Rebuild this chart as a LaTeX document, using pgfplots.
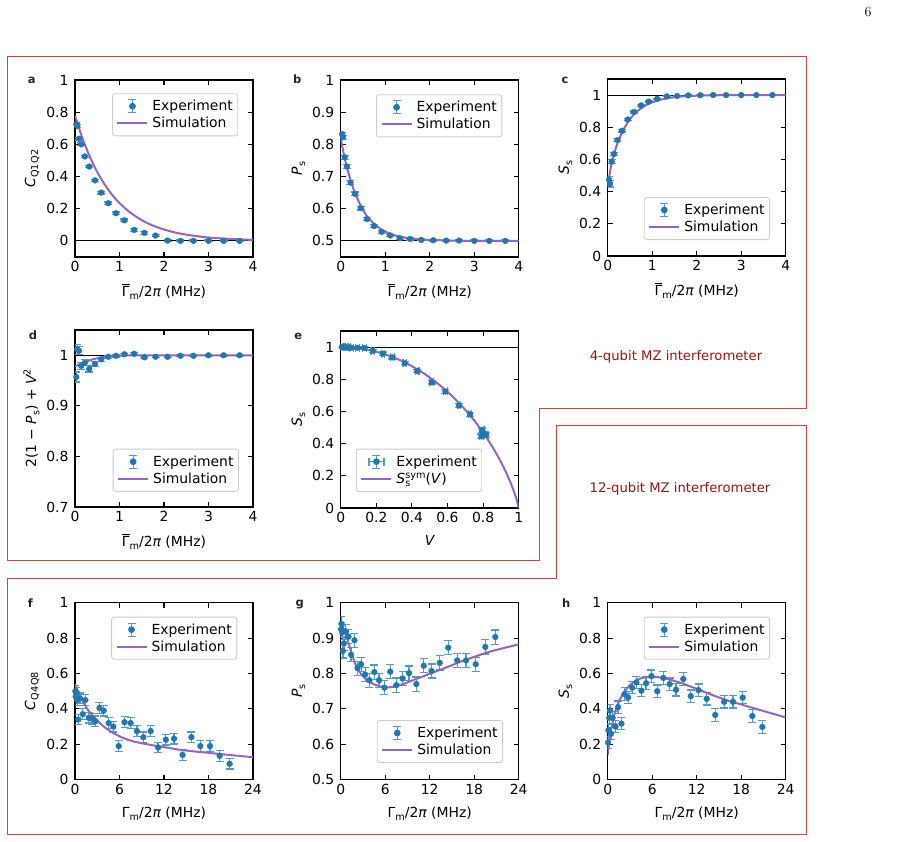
\documentclass[border=0pt]{standalone}
\usepackage{fontspec}
\usepackage{pgfplots}
\usepackage{pgfplotstable}
\pgfplotsset{compat=1.18}
\newfontfamily\dv{DejaVu Sans}
\newcommand\F{\dv\fontsize{13.9}{16}\selectfont}
\newcommand\Fs{\dv\fontsize{9.7}{11}\selectfont}
\newcommand\sub[1]{\raisebox{-3.2pt}{\Fs #1}}
\newcommand\sups[1]{\raisebox{5.5pt}{\Fs #1}}
\newcommand\GmBar{$\overline{\hbox{\F Γ}}$\sub{m}/2{\itshape π} (MHz)}
\newcommand\Gm{Γ\sub{m}/2{\itshape π} (MHz)}
\definecolor{tblue}{HTML}{1F77B4}
\definecolor{tpurple}{HTML}{9467BD}
\colorlet{errc}{tblue!75!white}
\definecolor{boxred}{RGB}{222,60,60}
\definecolor{txtred}{RGB}{150,20,20}

\pgfplotstableread{
x a ea b eb c ec d ed
0.03 0.725 0.008 0.832 0.006 0.474 0.020 0.957 0.010
0.05 0.715 0.008 0.822 0.006 0.449 0.020 1.012 0.010
0.09 0.635 0.008 0.760 0.006 0.586 0.012 1.009 0.008
0.14 0.600 0.008 0.731 0.006 0.634 0.010 0.979 0.007
0.22 0.525 0.008 0.681 0.006 0.720 0.010 0.985 0.006
0.32 0.462 0.008 0.646 0.006 0.778 0.008 0.973 0.006
0.45 0.376 0.008 0.602 0.006 0.848 0.008 0.983 0.005
0.59 0.300 0.008 0.568 0.005 0.895 0.006 0.992 0.004
0.75 0.234 0.008 0.546 0.005 0.936 0.005 0.997 0.003
0.92 0.172 0.008 0.528 0.005 0.959 0.004 0.999 0.003
1.11 0.128 0.008 0.517 0.004 0.977 0.004 1.002 0.002
1.33 0.068 0.008 0.508 0.004 0.992 0.003 1.003 0.002
1.56 0.050 0.008 0.506 0.003 0.994 0.003 0.996 0.002
1.81 0.033 0.008 0.503 0.003 0.998 0.002 0.997 0.002
2.08 0.002 0.006 0.502 0.003 0.999 0.002 0.997 0.002
2.37 0.000 0.005 0.501 0.003 1.000 0.002 0.999 0.002
2.66 0.000 0.005 0.501 0.003 1.000 0.002 0.999 0.002
3.00 0.000 0.005 0.500 0.003 1.000 0.002 1.000 0.002
3.34 0.000 0.005 0.500 0.003 1.000 0.002 1.000 0.002
3.70 0.000 0.005 0.500 0.003 1.000 0.002 1.000 0.002
}\tabA

\pgfplotstableread{
x a b c d
0.0 0.780 0.820 0.430 0.978
0.05 0.735 0.783 0.520 0.980
0.1 0.692 0.751 0.590 0.982
0.15 0.652 0.724 0.640 0.984
0.2 0.614 0.699 0.685 0.986
0.3 0.545 0.656 0.755 0.989
0.4 0.483 0.624 0.808 0.992
0.5 0.428 0.596 0.850 0.994
0.6 0.380 0.575 0.882 0.996
0.7 0.337 0.560 0.907 0.997
0.8 0.299 0.547 0.927 0.998
0.9 0.265 0.537 0.943 0.999
1.0 0.235 0.529 0.955 0.999
1.2 0.185 0.518 0.972 1.000
1.4 0.146 0.511 0.983 1.000
1.6 0.114 0.507 0.990 1.000
1.8 0.090 0.504 0.994 1.000
2.0 0.071 0.503 0.996 1.000
2.25 0.052 0.502 0.998 1.000
2.5 0.039 0.501 0.999 1.000
2.75 0.029 0.500 1.000 1.000
3.0 0.021 0.500 1.000 1.000
3.5 0.012 0.500 1.000 1.000
4.0 0.006 0.500 1.000 1.000
}\simA

\pgfplotstableread{
v s ev es
0.006 1.000 0.010 0.010
0.019 1.000 0.010 0.010
0.032 0.998 0.010 0.010
0.047 0.998 0.010 0.010
0.061 0.996 0.010 0.010
0.095 0.996 0.010 0.010
0.133 0.994 0.010 0.010
0.180 0.977 0.010 0.010
0.237 0.959 0.010 0.010
0.290 0.936 0.010 0.010
0.360 0.900 0.010 0.010
0.430 0.851 0.010 0.010
0.512 0.781 0.010 0.010
0.588 0.724 0.010 0.010
0.664 0.637 0.010 0.010
0.727 0.582 0.010 0.012
0.793 0.482 0.012 0.015
0.803 0.460 0.012 0.015
0.790 0.445 0.012 0.015
0.816 0.455 0.012 0.015
}\tabE

\pgfplotstableread{
v s
0.0 1.000
0.05 0.998
0.1 0.993
0.15 0.984
0.2 0.971
0.25 0.954
0.3 0.934
0.35 0.910
0.4 0.881
0.45 0.849
0.5 0.811
0.55 0.769
0.6 0.722
0.65 0.669
0.7 0.610
0.75 0.544
0.8 0.469
0.85 0.384
0.875 0.337
0.9 0.286
0.925 0.231
0.95 0.169
0.97 0.112
0.98 0.081
0.99 0.045
1.0 0.000
}\simE

\pgfplotstableread{
x f g h
0.05 0.500 0.925 0.210
0.10 0.470 0.940 0.280
0.20 0.490 0.916 0.350
0.30 0.450 0.864 0.390
0.45 0.340 0.885 0.260
0.67 0.460 0.919 0.350
1.05 0.370 0.904 0.300
1.40 0.450 0.853 0.410
1.85 0.350 0.894 0.317
2.27 0.345 0.815 0.484
2.75 0.330 0.826 0.465
3.30 0.405 0.797 0.520
3.87 0.390 0.781 0.550
4.54 0.320 0.804 0.503
5.17 0.300 0.781 0.545
5.90 0.190 0.760 0.585
6.68 0.325 0.805 0.500
7.50 0.320 0.767 0.575
8.35 0.275 0.786 0.540
9.22 0.240 0.801 0.508
10.20 0.275 0.770 0.569
11.20 0.182 0.822 0.472
12.25 0.226 0.807 0.506
13.35 0.232 0.830 0.457
14.50 0.140 0.873 0.366
15.70 0.240 0.837 0.440
16.90 0.190 0.837 0.440
18.20 0.190 0.826 0.464
19.50 0.135 0.875 0.360
20.85 0.090 0.903 0.298
}\tabF

\pgfplotstableread{
x f g h
0.0 0.540 0.950 0.140
0.25 0.515 0.935 0.220
0.5 0.490 0.920 0.290
1.0 0.447 0.890 0.385
1.5 0.410 0.855 0.440
2.0 0.380 0.826 0.480
2.5 0.355 0.806 0.510
3.0 0.334 0.792 0.535
4.0 0.296 0.775 0.565
5.0 0.268 0.765 0.578
6.0 0.245 0.761 0.581
7.0 0.228 0.762 0.578
8.0 0.215 0.767 0.570
10.0 0.198 0.783 0.545
12.0 0.184 0.799 0.513
14.0 0.170 0.815 0.480
16.0 0.160 0.832 0.450
18.0 0.152 0.847 0.425
20.0 0.143 0.861 0.400
22.0 0.135 0.872 0.376
24.0 0.127 0.882 0.352
}\simF

\pgfplotsset{
 panel/.style={scale only axis, width=178pt, height=177pt, anchor=north west,
  axis line style={line width=1.2pt},
  every tick/.style={black, line width=1.1pt}, major tick length=5pt, tick align=inside,
  ticklabel style={font=\F}, label style={font=\F},
  yticklabel style={xshift=-3pt},
  xticklabel style={yshift=-1pt},
  xlabel style={yshift=-5pt},
  /pgf/number format/assume math mode=true,
  legend cell align=left,
  legend style={draw=black!20, line width=0.9pt, rounded corners=2.5pt, fill=white,
    font=\F, inner xsep=4pt, inner ysep=4pt, nodes={inner xsep=1pt, inner ysep=2.5pt},
    /tikz/every odd column/.append style={column sep=3pt}}},
 exp/.style={only marks, mark=*, mark size=2.9pt, color=tblue,
  error bars/y dir=both, error bars/y explicit,
  error bars/error bar style={errc, line width=1.2pt},
  error bars/error mark options={rotate=90, errc, mark size=4pt, line width=1.2pt}},
 explegend/.style={legend image code/.code={
  \path[draw=none, fill=none] (0pt,0pt) -- (30pt,0pt);
  \draw[errc, line width=1.2pt] (15pt,-6.5pt) -- (15pt,6.5pt) (11pt,-6.5pt) -- (19pt,-6.5pt) (11pt,6.5pt) -- (19pt,6.5pt);
  \fill[tblue] (15pt,0pt) circle (2.9pt);}},
 explegendxy/.style={legend image code/.code={
  \path[draw=none, fill=none] (0pt,0pt) -- (30pt,0pt);
  \draw[errc, line width=1.2pt] (15pt,-6.5pt) -- (15pt,6.5pt) (11pt,-6.5pt) -- (19pt,-6.5pt) (11pt,6.5pt) -- (19pt,6.5pt)
    (7.5pt,0pt) -- (22.5pt,0pt) (7.5pt,-4pt) -- (7.5pt,4pt) (22.5pt,-4pt) -- (22.5pt,4pt);
  \fill[tblue] (15pt,0pt) circle (2.9pt);}},
 sim/.style={tpurple, line width=2pt, no markers, smooth,
  legend image code/.code={\draw[tpurple, line width=2pt] (0pt,0pt) -- (30pt,0pt);}},
 refline/.style={black, line width=0.9pt, forget plot},
}
\newcommand\plab[3]{\node[font=\dv\fontsize{11.5}{12}\selectfont\bfseries, text=black!85, anchor=base] at (#1,#2) {#3};}

\begin{document}
\begin{tikzpicture}[x=1pt,y=1pt]
\useasboundingbox (0,0) rectangle (907,842);

% red boxes
\draw[boxred, line width=1pt] (7,785) -- (806,785) -- (806,433) -- (539.7,433) -- (539.7,281) -- (7,281) -- cycle;
\draw[boxred, line width=1pt] (556.7,416) -- (806,416) -- (806,7) -- (7,7) -- (7,263.7) -- (556.7,263.7) -- cycle;
\node[font=\dv\fontsize{13.2}{15}\selectfont, text=txtred] at (676,485) {4-qubit MZ interferometer};
\node[font=\dv\fontsize{13.2}{15}\selectfont, text=txtred] at (680,353) {12-qubit MZ interferometer};
\node[font=\fontsize{14}{16}\selectfont, anchor=base] at (868,825) {6};

% panel letters
\plab{31.7}{758}{a}
\plab{297.3}{758}{b}
\plab{565}{758.7}{c}
\plab{33}{502.7}{d}
\plab{298.3}{502.7}{e}
\plab{30.3}{234.7}{f}
\plab{299.7}{235.3}{g}
\plab{566.3}{234.7}{h}

% a
\begin{axis}[panel, at={(75pt,762pt)}, xmin=0, xmax=4, ymin=-0.1, ymax=1,
  xtick={0,1,2,3,4}, ytick={0,0.2,0.4,0.6,0.8,1},
  xlabel={\GmBar}, ylabel={{\itshape C}\sub{Q1\kern0.8pt Q2}},
  legend style={at={(0.917,0.925)}, anchor=north east}]
\addplot[refline] coordinates {(0,0) (4,0)};
\addplot[exp, explegend] table[x=x, y=a, y error=ea] {\tabA};
\addlegendentry{Experiment}
\addplot[sim] table[x=x, y=a] {\simA};
\addlegendentry{Simulation}
\end{axis}

% b
\begin{axis}[panel, at={(340.7pt,762pt)}, xmin=0, xmax=4, ymin=0.45, ymax=1,
  xtick={0,1,2,3,4}, ytick={0.5,0.6,0.7,0.8,0.9,1},
  xlabel={\GmBar}, ylabel={{\itshape P}\sub{s}},
  legend style={at={(0.908,0.919)}, anchor=north east}]
\addplot[refline] coordinates {(0,0.5) (4,0.5)};
\addplot[exp, explegend] table[x=x, y=b, y error=eb] {\tabA};
\addlegendentry{Experiment}
\addplot[sim] table[x=x, y=b] {\simA};
\addlegendentry{Simulation}
\end{axis}

% c
\begin{axis}[panel, at={(607.7pt,763pt)}, xmin=0, xmax=4, ymin=0, ymax=1.1,
  xtick={0,1,2,3,4}, ytick={0,0.2,0.4,0.6,0.8,1},
  xlabel={\GmBar}, ylabel={{\itshape S}\sub{s}},
  legend style={at={(0.912,0.09)}, anchor=south east}]
\addplot[refline] coordinates {(0,1) (4,1)};
\addplot[exp, explegend] table[x=x, y=c, y error=ec] {\tabA};
\addlegendentry{Experiment}
\addplot[sim] table[x=x, y=c] {\simA};
\addlegendentry{Simulation}
\end{axis}

% d
\begin{axis}[panel, at={(75pt,512pt)}, xmin=0, xmax=4, ymin=0.7, ymax=1.05,
  xtick={0,1,2,3,4}, ytick={0.7,0.8,0.9,1},
  xlabel={\GmBar}, ylabel={2(1 − {\itshape P}\sub{s}) + {\itshape V}\sups{2}},
  legend style={at={(0.921,0.086)}, anchor=south east}]
\addplot[refline] coordinates {(0,1) (4,1)};
\addplot[exp, explegend] table[x=x, y=d, y error=ed] {\tabA};
\addlegendentry{Experiment}
\addplot[sim] table[x=x, y=d] {\simA};
\addlegendentry{Simulation}
\end{axis}

% e
\begin{axis}[panel, at={(340.7pt,511pt)}, xmin=0, xmax=1, ymin=0, ymax=1.1,
  xtick={0,0.2,0.4,0.6,0.8,1}, ytick={0,0.2,0.4,0.6,0.8,1},
  xlabel={{\itshape V}}, ylabel={{\itshape S}\sub{s}},
  legend style={at={(0.086,0.09)}, anchor=south west}]
\addplot[refline] coordinates {(0,1) (1,1)};
\addplot[exp, explegendxy, error bars/x dir=both, error bars/x explicit] table[x=v, y=s, x error=ev, y error=es] {\tabE};
\addlegendentry{Experiment}
\addplot[sim] table[x=v, y=s] {\simE};
\addlegendentry{{\itshape S}\rlap{\sub{s}}\sups{sym}(\textit{V})}
\end{axis}

% f
\begin{axis}[panel, at={(75pt,239.3pt)}, xmin=0, xmax=24, ymin=0, ymax=1,
  xtick={0,6,12,18,24}, ytick={0,0.2,0.4,0.6,0.8,1},
  xlabel={\Gm}, ylabel={{\itshape C}\sub{Q4\kern0.8pt Q8}},
  legend style={at={(0.912,0.921)}, anchor=north east}]
\addplot[exp, explegend, error bars/y fixed=0.03] table[x=x, y=f] {\tabF};
\addlegendentry{Experiment}
\addplot[sim] table[x=x, y=f] {\simF};
\addlegendentry{Simulation}
\end{axis}

% g
\begin{axis}[panel, at={(340.7pt,239.3pt)}, xmin=0, xmax=24, ymin=0.5, ymax=1,
  xtick={0,6,12,18,24}, ytick={0.5,0.6,0.7,0.8,0.9,1},
  xlabel={\Gm}, ylabel={{\itshape P}\sub{s}},
  legend style={at={(0.912,0.094)}, anchor=south east}]
\addplot[exp, explegend, error bars/y fixed=0.02] table[x=x, y=g] {\tabF};
\addlegendentry{Experiment}
\addplot[sim] table[x=x, y=g] {\simF};
\addlegendentry{Simulation}
\end{axis}

% h
\begin{axis}[panel, at={(607.7pt,239.3pt)}, xmin=0, xmax=24, ymin=0, ymax=1,
  xtick={0,6,12,18,24}, ytick={0,0.2,0.4,0.6,0.8,1},
  xlabel={\Gm}, ylabel={{\itshape S}\sub{s}},
  legend style={at={(0.912,0.921)}, anchor=north east}]
\addplot[exp, explegend, error bars/y fixed=0.035] table[x=x, y=h] {\tabF};
\addlegendentry{Experiment}
\addplot[sim] table[x=x, y=h] {\simF};
\addlegendentry{Simulation}
\end{axis}
\end{tikzpicture}
\end{document}
